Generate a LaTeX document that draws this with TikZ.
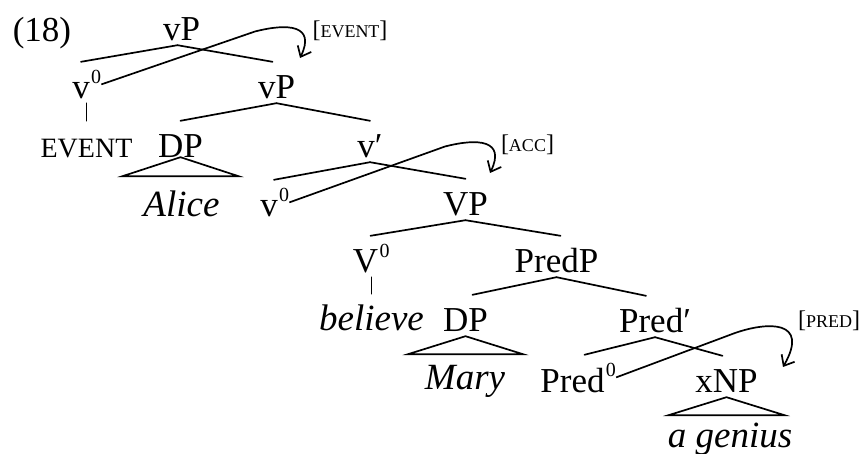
\documentclass[tikz,border=0pt]{standalone}
\usepackage{fontspec}
\setmainfont{Liberation Serif}
\usetikzlibrary{arrows.meta}
\newcommand{\featlab}[1]{{\fontsize{24}{28}\selectfont[}{\fontsize{18}{20}\selectfont #1}{\fontsize{24}{28}\selectfont]}}
\begin{document}
\begin{tikzpicture}[x=1pt,y=-1pt,
  tn/.style={anchor=base, inner sep=0pt, text height=37pt, text depth=4pt, font=\fontsize{35}{40}\selectfont},
  lx/.style={tn, font=\fontsize{37}{42}\selectfont\itshape},
  supsty/.style={anchor=base west, inner sep=0pt, font=\fontsize{20}{24}\selectfont},
  feat/.style={anchor=base, inner sep=0pt},
  br/.style={line width=1.7pt, line cap=round},
  mv/.style={line width=1.7pt, line join=round, -{Straight Barb[length=9pt,width=15pt,line width=1.7pt]}}]
\useasboundingbox (0,0) rectangle (860,454);

% example number
\node[anchor=base, inner sep=0pt, font=\fontsize{35}{40}\selectfont] (ex) at (42,42) {(18)};

% nodes
\node[tn] (vP1) at (181.5,41) {vP};
\node[tn] (v0a) at (81,99) {v};
\node[supsty] (v0a-0) at ([xshift=1pt,yshift=15pt]v0a.base east) {0};
\node[tn] (vP2) at (276.5,99) {vP};
\node[tn, font=\fontsize{28}{32}\selectfont] (EVENT) at (86.5,158) {EVENT};
\node[tn] (DPa) at (180.5,158) {DP};
\node[lx] (Alice) at (181.5,217) {Alice};
\node[tn] (vbar) at (370,158) {v′};
\node[tn] (v0b) at (269,217) {v};
\node[supsty] (v0b-0) at ([xshift=1pt,yshift=15pt]v0b.base east) {0};
\node[tn] (VP) at (465.5,216) {VP};
\node[tn] (V0) at (365.5,273) {V};
\node[supsty] (V0-0) at ([xshift=1pt,yshift=15pt]V0.base east) {0};
\node[tn] (PredP) at (556.5,273) {PredP};
\node[lx] (believe) at (371.5,331) {believe};
\node[tn] (DPb) at (465.5,332) {DP};
\node[tn] (Predbar) at (655,333) {Pred′};
\node[lx] (Mary) at (465,390) {Mary};
\node[tn] (Pred0) at (572.5,392) {Pred};
\node[supsty] (Pred0-0) at ([xshift=1pt,yshift=15pt]Pred0.base east) {0};
\node[tn] (xNP) at (726.5,393) {xNP};
\node[lx] (agenius) at (730,447) {a genius};

% feature labels
\node[feat] (fEVENT) at (350,38) {\featlab{EVENT}};
\node[feat] (fACC) at (527.5,152) {\featlab{ACC}};
\node[feat] (fPRED) at (829,328) {\featlab{PRED}};

% branches
\draw[br] ([xshift=-4pt]vP1.south) -- (v0a.north);
\draw[br] ([xshift=-4pt]vP1.south) -- ([xshift=-4pt]vP2.north);
\draw[br] (EVENT.north) -- (EVENT.north |- v0a.south);
\draw[br] (vP2.south) -- (DPa.north);
\draw[br] (vP2.south) -- (vbar.north);
\draw[br] ([yshift=5pt]DPa.south) -- ++(-58,19) -- ++(116,0) -- cycle;
\draw[br] (vbar.south) -- ([xshift=5pt]v0b.north);
\draw[br] (vbar.south) -- (VP.north);
\draw[br] (VP.south) -- ([xshift=5pt]V0.north);
\draw[br] (VP.south) -- ([xshift=4pt]PredP.north);
\draw[br] (believe.north) -- (believe.north |- V0.south);
\draw[br] (PredP.south) -- ([xshift=7pt]DPb.north);
\draw[br] (PredP.south) -- ([xshift=-9pt]Predbar.north);
\draw[br] (DPb.south) -- ++(-57.5,18) -- ++(115,0) -- cycle;
\draw[br] (Predbar.south) -- ([xshift=12pt]Pred0.north);
\draw[br] (Predbar.south) -- ([xshift=-4pt]xNP.north);
\draw[br] (xNP.south) -- ++(-58,18) -- ++(116,0) -- cycle;

% movement arrows
\coordinate (k1) at (255,31.5);
\coordinate (t1) at (300,58);
\coordinate (k2) at (445,146.5);
\coordinate (t2) at (490,173);
\coordinate (k3) at (735,333);
\coordinate (t3) at (783,367);
\draw[mv] (v0a-0.south east) -- (k1) .. controls +(33,-8.5) and +(16,-33) .. (t1);
\draw[mv] (v0b-0.south east) -- (k2) .. controls +(33,-8.5) and +(16,-33) .. (t2);
\draw[mv] (Pred0-0.south east) -- (k3) .. controls +(33,-11.5) and +(27,-47) .. (t3);
\end{tikzpicture}
\end{document}
